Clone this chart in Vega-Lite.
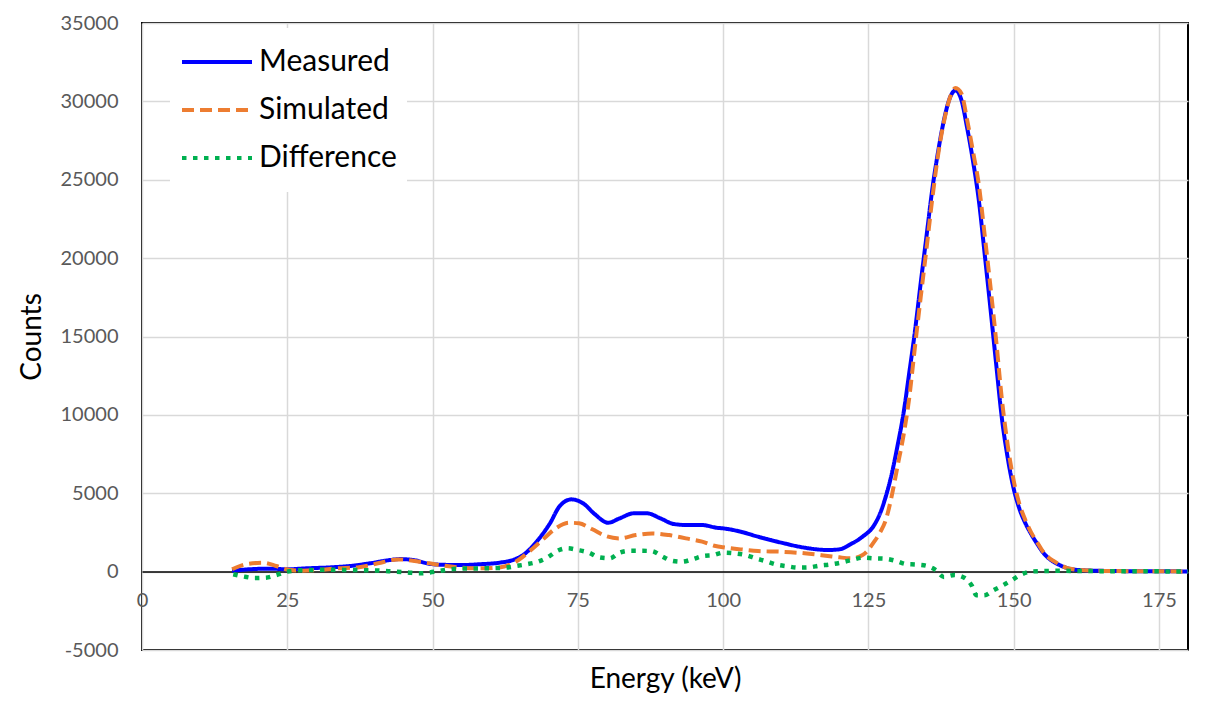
{
  "$schema": "https://vega.github.io/schema/vega-lite/v6.json",
  "width": 1046,
  "height": 627,
  "autosize": {"type": "none"},
  "padding": {"left": 142, "top": 23, "right": 30, "bottom": 63},
  "background": "white",
  "config": {
    "view": {"stroke": "black", "strokeWidth": 2},
    "font": "Lato",
    "legend": {
      "orient": "none",
      "legendX": 28,
      "legendY": 5,
      "fillColor": "white",
      "padding": 10,
      "symbolType": "stroke",
      "symbolSize": 4900,
      "symbolStrokeWidth": 4,
      "labelFontSize": 30,
      "labelColor": "black",
      "labelFont": "Lato",
      "clipHeight": 48,
      "rowPadding": 0,
      "labelOffset": 5
    }
  },
  "datasets": {
    "measured": [
      {"E": 15.5, "C": 60}, {"E": 18.5, "C": 150}, {"E": 22, "C": 190}, {"E": 25, "C": 150},
      {"E": 28.3, "C": 210}, {"E": 32.3, "C": 270}, {"E": 35.8, "C": 360}, {"E": 39.2, "C": 530},
      {"E": 42.7, "C": 740}, {"E": 44.4, "C": 800}, {"E": 46.7, "C": 740}, {"E": 49.6, "C": 490},
      {"E": 52.4, "C": 430}, {"E": 55, "C": 420}, {"E": 58, "C": 470}, {"E": 61.5, "C": 570},
      {"E": 63.8, "C": 740}, {"E": 65.6, "C": 1060}, {"E": 67.9, "C": 1910}, {"E": 70.2, "C": 3080},
      {"E": 71.9, "C": 4190}, {"E": 73.9, "C": 4610}, {"E": 75.9, "C": 4360}, {"E": 77.9, "C": 3670},
      {"E": 80.2, "C": 3120}, {"E": 82.2, "C": 3400}, {"E": 84.6, "C": 3720}, {"E": 86.9, "C": 3720},
      {"E": 89.2, "C": 3400}, {"E": 91.5, "C": 3040}, {"E": 93.8, "C": 2970}, {"E": 96.4, "C": 2970},
      {"E": 98.9, "C": 2800}, {"E": 100, "C": 2760}, {"E": 103, "C": 2550}, {"E": 106, "C": 2230},
      {"E": 110, "C": 1850}, {"E": 114, "C": 1530}, {"E": 118, "C": 1380}, {"E": 120, "C": 1420},
      {"E": 122, "C": 1760}, {"E": 124, "C": 2230}, {"E": 126, "C": 2970}, {"E": 127, "C": 3700},
      {"E": 128, "C": 4800}, {"E": 129, "C": 6200}, {"E": 130, "C": 8000}, {"E": 131, "C": 10000},
      {"E": 132, "C": 12600}, {"E": 133, "C": 15300}, {"E": 134, "C": 18400}, {"E": 135, "C": 21400},
      {"E": 136, "C": 24400}, {"E": 137, "C": 26800}, {"E": 138, "C": 28800}, {"E": 139, "C": 30200},
      {"E": 140, "C": 30700}, {"E": 141, "C": 30100}, {"E": 142, "C": 28300}, {"E": 143, "C": 26200},
      {"E": 144, "C": 23700}, {"E": 145, "C": 20300}, {"E": 146, "C": 16800}, {"E": 147, "C": 13200},
      {"E": 148, "C": 9700}, {"E": 149, "C": 7200}, {"E": 150, "C": 5300}, {"E": 151, "C": 4000},
      {"E": 152, "C": 3100}, {"E": 153, "C": 2400}, {"E": 154, "C": 1800}, {"E": 155, "C": 1250},
      {"E": 156, "C": 850}, {"E": 157, "C": 600}, {"E": 158, "C": 400}, {"E": 159, "C": 250},
      {"E": 160, "C": 150}, {"E": 163, "C": 70}, {"E": 167, "C": 40}, {"E": 172, "C": 25}, {"E": 180, "C": 15}
    ],
    "simulated": [
      {"E": 15.5, "C": 150}, {"E": 17.9, "C": 470}, {"E": 20.8, "C": 570}, {"E": 23.1, "C": 360},
      {"E": 24.8, "C": 150}, {"E": 27.1, "C": 60}, {"E": 30, "C": 100}, {"E": 33.6, "C": 210},
      {"E": 37.1, "C": 270}, {"E": 40.6, "C": 530}, {"E": 44, "C": 780}, {"E": 47.5, "C": 650},
      {"E": 51.2, "C": 420}, {"E": 54.6, "C": 270}, {"E": 58, "C": 210}, {"E": 61.5, "C": 270},
      {"E": 64.3, "C": 630}, {"E": 66.6, "C": 1270}, {"E": 68.9, "C": 2020}, {"E": 71.2, "C": 2760},
      {"E": 73.5, "C": 3120}, {"E": 75.2, "C": 3080}, {"E": 77.5, "C": 2700}, {"E": 79.8, "C": 2270},
      {"E": 82.1, "C": 2120}, {"E": 85, "C": 2330}, {"E": 87.8, "C": 2440}, {"E": 90.7, "C": 2330},
      {"E": 93.6, "C": 2120}, {"E": 96.4, "C": 1910}, {"E": 98.7, "C": 1630}, {"E": 100, "C": 1550},
      {"E": 103, "C": 1420}, {"E": 106, "C": 1310}, {"E": 110, "C": 1270}, {"E": 114, "C": 1170},
      {"E": 118, "C": 1000}, {"E": 120, "C": 910}, {"E": 122, "C": 850}, {"E": 124, "C": 1060},
      {"E": 126, "C": 1910}, {"E": 127, "C": 2500}, {"E": 128, "C": 3300}, {"E": 129, "C": 4800},
      {"E": 130, "C": 6700}, {"E": 131, "C": 8600}, {"E": 132, "C": 11000}, {"E": 133, "C": 14300},
      {"E": 134, "C": 17500}, {"E": 135, "C": 20600}, {"E": 136, "C": 23800}, {"E": 137, "C": 26600},
      {"E": 138, "C": 28700}, {"E": 139, "C": 30200}, {"E": 140, "C": 30850}, {"E": 141, "C": 30500},
      {"E": 142, "C": 28800}, {"E": 143, "C": 26800}, {"E": 144, "C": 24700}, {"E": 145, "C": 21500},
      {"E": 146, "C": 18200}, {"E": 147, "C": 14700}, {"E": 148, "C": 10900}, {"E": 149, "C": 8000},
      {"E": 150, "C": 5800}, {"E": 151, "C": 4300}, {"E": 152, "C": 3300}, {"E": 153, "C": 2500},
      {"E": 154, "C": 1900}, {"E": 155, "C": 1300}, {"E": 156, "C": 900}, {"E": 157, "C": 650},
      {"E": 158, "C": 420}, {"E": 159, "C": 260}, {"E": 160, "C": 170}, {"E": 163, "C": 70},
      {"E": 167, "C": 40}, {"E": 172, "C": 25}, {"E": 180, "C": 15}
    ],
    "difference": [
      {"E": 15.7, "C": -170}, {"E": 17.6, "C": -320}, {"E": 19.4, "C": -410}, {"E": 21.3, "C": -390},
      {"E": 23.1, "C": -220}, {"E": 25, "C": 0}, {"E": 26.9, "C": 80}, {"E": 28.8, "C": 100},
      {"E": 32.5, "C": 120}, {"E": 36.3, "C": 100}, {"E": 40, "C": 80}, {"E": 41.9, "C": 40},
      {"E": 43.8, "C": 0}, {"E": 45.7, "C": -50}, {"E": 47.6, "C": -110}, {"E": 49.4, "C": -60},
      {"E": 51.2, "C": 40}, {"E": 53.1, "C": 150}, {"E": 55, "C": 190}, {"E": 58.8, "C": 210},
      {"E": 62.5, "C": 250}, {"E": 64.4, "C": 360}, {"E": 66.2, "C": 470}, {"E": 68.1, "C": 630},
      {"E": 69.8, "C": 910}, {"E": 71.4, "C": 1310}, {"E": 73.2, "C": 1490}, {"E": 75, "C": 1380},
      {"E": 76.9, "C": 1210}, {"E": 78.6, "C": 910}, {"E": 80.5, "C": 850}, {"E": 82.2, "C": 1210},
      {"E": 84, "C": 1330}, {"E": 85.8, "C": 1330}, {"E": 87.7, "C": 1310}, {"E": 89.4, "C": 1000},
      {"E": 91.1, "C": 700}, {"E": 92.9, "C": 630}, {"E": 94.8, "C": 800}, {"E": 96.6, "C": 1000},
      {"E": 98.4, "C": 1060}, {"E": 100, "C": 1210}, {"E": 101.9, "C": 1170}, {"E": 103.8, "C": 1060},
      {"E": 105.6, "C": 850}, {"E": 107.4, "C": 660}, {"E": 109.2, "C": 450}, {"E": 111.1, "C": 340},
      {"E": 112.9, "C": 255}, {"E": 114.7, "C": 270}, {"E": 116.6, "C": 380}, {"E": 118.4, "C": 460},
      {"E": 120.3, "C": 580}, {"E": 122.1, "C": 740}, {"E": 124.1, "C": 890}, {"E": 125.9, "C": 850},
      {"E": 127.7, "C": 830}, {"E": 129.6, "C": 700}, {"E": 131.5, "C": 480}, {"E": 133.3, "C": 450},
      {"E": 135, "C": 370}, {"E": 136.6, "C": 100}, {"E": 138, "C": -340}, {"E": 139.8, "C": -220},
      {"E": 141.5, "C": -390}, {"E": 142.8, "C": -900}, {"E": 143.6, "C": -1510}, {"E": 144.9, "C": -1510},
      {"E": 146.6, "C": -1170}, {"E": 148, "C": -900}, {"E": 149.7, "C": -540}, {"E": 151.1, "C": -220},
      {"E": 152.9, "C": 0}, {"E": 155, "C": 40}, {"E": 158, "C": 50}, {"E": 165, "C": 30},
      {"E": 172, "C": 20}, {"E": 180, "C": 10}
    ]
  },
  "layer": [
    {
      "data": {"name": "measured"},
      "transform": [{"calculate": "'Measured'", "as": "series"}],
      "mark": {"type": "line", "interpolate": "monotone", "strokeWidth": 4, "strokeJoin": "round"},
      "encoding": {
        "x": {"field": "E", "type": "quantitative"},
        "y": {"field": "C", "type": "quantitative"},
        "color": {"field": "series", "type": "nominal"},
        "strokeDash": {"field": "series", "type": "nominal"}
      }
    },
    {
      "data": {"name": "simulated"},
      "transform": [{"calculate": "'Simulated'", "as": "series"}],
      "mark": {"type": "line", "interpolate": "monotone", "strokeWidth": 4, "strokeJoin": "round"},
      "encoding": {
        "x": {"field": "E", "type": "quantitative"},
        "y": {"field": "C", "type": "quantitative"},
        "color": {"field": "series", "type": "nominal"},
        "strokeDash": {"field": "series", "type": "nominal"}
      }
    },
    {
      "data": {"name": "difference"},
      "transform": [{"calculate": "'Difference'", "as": "series"}],
      "mark": {"type": "line", "interpolate": "monotone", "strokeWidth": 4.5, "strokeJoin": "round"},
      "encoding": {
        "x": {"field": "E", "type": "quantitative"},
        "y": {"field": "C", "type": "quantitative"},
        "color": {"field": "series", "type": "nominal"},
        "strokeDash": {"field": "series", "type": "nominal"}
      }
    }
  ],
  "encoding": {
    "x": {
      "field": "E",
      "type": "quantitative",
      "scale": {"domain": [0, 180], "nice": false, "zero": false},
      "axis": {
        "values": [0, 25, 50, 75, 100, 125, 150, 175],
        "offset": -78.4,
        "domainColor": "black",
        "domainWidth": 1.5,
        "ticks": false,
        "labelPadding": 19,
        "labelFontSize": 20,
        "labelColor": "#595959",
        "labelFlush": false,
        "gridColor": "#d9d9d9",
        "gridWidth": 1.5,
        "title": "Energy (keV)",
        "titleFontSize": 28,
        "titleFontWeight": "normal",
        "titleColor": "black",
        "titleY": 116,
        "titleBaseline": "alphabetic"
      }
    },
    "y": {
      "field": "C",
      "type": "quantitative",
      "scale": {"domain": [-5000, 35000], "nice": false, "zero": false},
      "axis": {
        "values": [-5000, 0, 5000, 10000, 15000, 20000, 25000, 30000, 35000],
        "domain": false,
        "ticks": false,
        "labelPadding": 24,
        "labelFontSize": 20,
        "labelColor": "#595959",
        "labelFlush": false,
        "labelExpr": "'' + datum.value",
        "gridColor": "#d9d9d9",
        "gridWidth": 1.5,
        "title": "Counts",
        "titleFontSize": 28,
        "titleFontWeight": "normal",
        "titleColor": "black",
        "titleX": -110,
        "titleY": 313.5,
        "titleBaseline": "middle"
      }
    },
    "color": {
      "field": "series",
      "type": "nominal",
      "title": null,
      "scale": {"domain": ["Measured", "Simulated", "Difference"], "range": ["#0000FF", "#ED7D31", "#00B050"]}
    },
    "strokeDash": {
      "field": "series",
      "type": "nominal",
      "title": null,
      "scale": {"domain": ["Measured", "Simulated", "Difference"], "range": [[1, 0], [12, 6], [4.5, 6.5]]}
    }
  }
}
